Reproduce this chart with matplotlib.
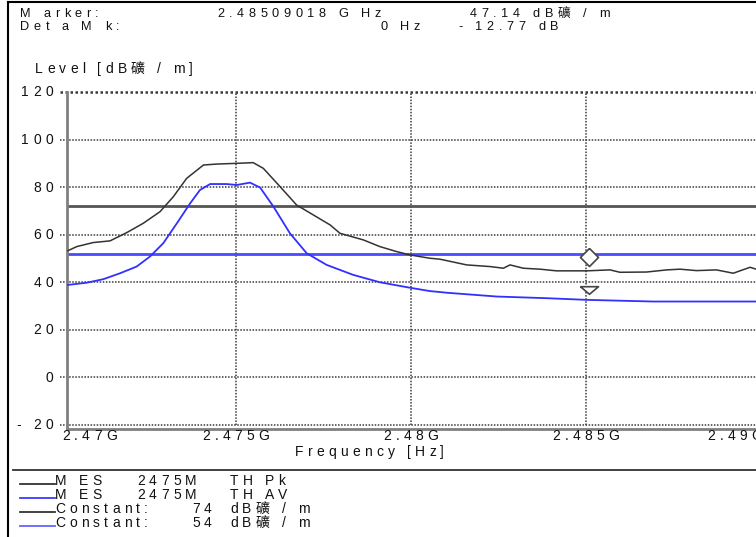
import matplotlib
matplotlib.use("Agg")
import matplotlib.pyplot as plt
from matplotlib.transforms import IdentityTransform
from matplotlib.font_manager import FontProperties
from matplotlib.lines import Line2D

W, H = 756, 537

# traza de pico (MES 2475M TH Pk), frecuencia en GHz, nivel en dBuV/m
pk_freq = [2.4702, 2.47045, 2.47092, 2.4714, 2.47188, 2.47235, 2.47283, 2.47321,
           2.47359, 2.47407, 2.47445, 2.47502, 2.47549, 2.47578, 2.47626, 2.47673,
           2.47721, 2.47769, 2.47797, 2.47864, 2.47911, 2.47959, 2.47997, 2.48054,
           2.48083, 2.48159, 2.48226, 2.48264, 2.48283, 2.48321, 2.48369, 2.48416,
           2.48502, 2.48569, 2.48597, 2.48673, 2.48731, 2.48769, 2.48816, 2.48873,
           2.48921, 2.48969, 2.49]
pk_level = [53.3, 55.0, 56.7, 57.4, 60.9, 64.8, 69.7, 76.0,
            83.7, 89.3, 89.7, 90.0, 90.3, 87.9, 80.2, 72.5,
            68.3, 64.1, 60.6, 57.8, 55.0, 52.9, 51.5, 50.1,
            49.7, 47.3, 46.6, 45.9, 47.3, 45.9, 45.5, 44.8,
            44.8, 45.2, 44.2, 44.3, 45.2, 45.5, 44.9, 45.2,
            43.8, 46.3, 44.9]

# traza promedio (MES 2475M TH AV)
av_freq = [2.4702, 2.47073, 2.47121, 2.47169, 2.47216, 2.47254, 2.47292, 2.47331,
           2.47369, 2.47397, 2.47426, 2.47473, 2.47502, 2.4754, 2.47569, 2.47607,
           2.47654, 2.47702, 2.47759, 2.47835, 2.47911, 2.47997, 2.48054, 2.48102,
           2.48245, 2.48388, 2.48502, 2.48692, 2.49]
av_level = [38.9, 39.8, 41.3, 43.8, 46.6, 50.8, 56.4, 64.8,
            73.2, 78.8, 81.3, 81.3, 80.9, 81.9, 79.8, 71.8,
            60.6, 52.2, 47.3, 43.1, 40.0, 37.7, 36.3, 35.6,
            34.0, 33.3, 32.6, 31.9, 31.9]

# lineas limite tal como aparecen dibujadas
limit_pk = 72
limit_av = 52

# marcadores
marker_freq = 2.48509018
marker_pk = 50.8
marker_av = 36.8

yticks = [120, 100, 80, 60, 40, 20, 0, -20]
ytick_labels = ["120", "100", "80", "60", "40", "20", "0", "- 20"]
xticks = [2.47, 2.475, 2.48, 2.485, 2.49]
xtick_labels = ["2.47G", "2.475G", "2.48G", "2.485G", "2.49G"]

header = [("M arker:", "2.48509018 G Hz", "47.14 dB礦 / m"),
          ("Det a M k:", "0 Hz", "- 12.77 dB")]
legend_rows = [("M ES", "2475M", "TH Pk"),
               ("M ES", "2475M", "TH AV"),
               ("Constant:", "74", "dB礦 / m"),
               ("Constant:", "54", "dB礦 / m")]
legend_colors = ['#333333', '#3c3cff', '#333333', '#6464ff']

FAM = ['Liberation Sans', 'Noto Sans CJK SC']
FS = 10
TRACK = 4.2
TXT = '#111111'

fig = plt.figure(figsize=(W / 100, H / 100), dpi=100)
fig.patch.set_facecolor('white')

# ejes en pixeles: izquierda 67, arriba 92 (120), abajo 429
ax = fig.add_axes([67 / W, 1 - 429 / H, (W - 67) / W, (429 - 92) / H])
ax.set_xlim(2.47017, 2.48986)
ax.set_ylim(-21.7, 120)
for s in ['top', 'right']:
    ax.spines[s].set_visible(False)
for s in ['left', 'bottom']:
    ax.spines[s].set_color('#808080')
    ax.spines[s].set_linewidth(2)
ax.set_xticks([])
ax.set_yticks([])

# rejilla punteada (sale un poco a la izquierda del eje)
ytr = ax.get_yaxis_transform()
for y in yticks:
    lw = 1.8 if y == 120 else 1.1
    ax.plot([-7 / 689, 1], [y, y], transform=ytr, color='#3a3a3a', lw=lw,
            ls=(0, (1, 1)), clip_on=False, zorder=1)
for x in xticks[1:-1]:
    ax.plot([x, x], [-20, 120], color='#3a3a3a', lw=1.1, ls=(0, (1, 1)), zorder=1)

ax.axhline(limit_pk, color='#555555', lw=2, zorder=2)
ax.axhline(limit_av, color='#4a4aff', lw=2, zorder=2)
ax.plot(pk_freq, pk_level, color='#333333', lw=1.1, zorder=3)
ax.plot(av_freq, av_level, color='#3030ff', lw=1.3, zorder=3)

diamond = [(0, 1), (1, 0), (0, -1), (-1, 0), (0, 1)]
tri = [(-1, 0.42), (1, 0.42), (0, -0.42), (-1, 0.42)]
ax.plot([marker_freq], [marker_pk], marker=diamond, ms=13, mfc='white',
        mec='#444444', mew=1.2, ls='none', zorder=4)
ax.plot([marker_freq], [marker_av], marker=tri, ms=13, mfc='white',
        mec='#444444', mew=1.2, ls='none', zorder=4)

# texto con letras espaciadas, coordenadas en pixeles desde arriba
rend = fig.canvas.get_renderer()


def adv(ch, prop):
    w1 = rend.get_text_width_height_descent('x' + ch + 'x', prop, ismath=False)[0]
    w0 = rend.get_text_width_height_descent('xx', prop, ismath=False)[0]
    return w1 - w0


def spaced(x, y, s, ha='left', color=TXT, size=FS, track=TRACK):
    prop = FontProperties(family=FAM, size=size)
    ws = [adv(c, prop) for c in s]
    total = sum(ws) + track * (len(s) - 1)
    if ha == 'right':
        x -= total
    elif ha == 'center':
        x -= total / 2
    for c, w in zip(s, ws):
        if c != ' ':
            fig.text(x, H - y, c, transform=IdentityTransform(), fontproperties=prop,
                     color=color, va='baseline', ha='left')
        x += w + track


# cabecera (dos filas muy juntas)
HS = 9.2
spaced(20, 17, header[0][0], size=HS, track=4.6)
spaced(217, 17, header[0][1], size=HS, track=4.6)
spaced(470, 17, header[0][2], size=HS, track=4.6)
spaced(20, 30.5, header[1][0], size=HS, track=4.6)
spaced(420, 30.5, header[1][1], ha='right', size=HS, track=4.6)
spaced(458, 30.5, header[1][2], size=HS, track=4.6)
spaced(35, 73, "Level [dB礦 / m]")

# etiquetas de los ejes
for y, lab in zip(yticks, ytick_labels):
    py = H - ax.transData.transform((2.475, y))[1]
    spaced(53, py + 4.5, lab, ha='right')
for i, (x, lab) in enumerate(zip(xticks, xtick_labels)):
    px = ax.transData.transform((x, 0))[0]
    if i == 0:
        spaced(62, 440, lab)
    elif i == len(xticks) - 1:
        spaced(px + 1, 440, lab, ha='right')
    else:
        spaced(px, 440, lab, ha='center')
spaced(295, 456, "Frequency [Hz]")

# marco exterior y separador de la leyenda
fig.add_artist(Line2D([8, 8], [0, H - 2], transform=IdentityTransform(), color='black', lw=1.5))
fig.add_artist(Line2D([8, W], [H - 2, H - 2], transform=IdentityTransform(), color='black', lw=1.5))
fig.add_artist(Line2D([13, W], [H - 470, H - 470], transform=IdentityTransform(), color='#333333', lw=1.3))

# leyenda
for i, (a, b, c) in enumerate(legend_rows):
    base = 485 + i * 14
    fig.add_artist(Line2D([20, 55], [H - base + 1, H - base + 1], transform=IdentityTransform(),
                          color=legend_colors[i], lw=1.3))
    spaced(55, base, a)
    spaced(137 if i < 2 else 192, base, b)
    spaced(230, base, c)

fig.savefig('out.png', dpi=100)
